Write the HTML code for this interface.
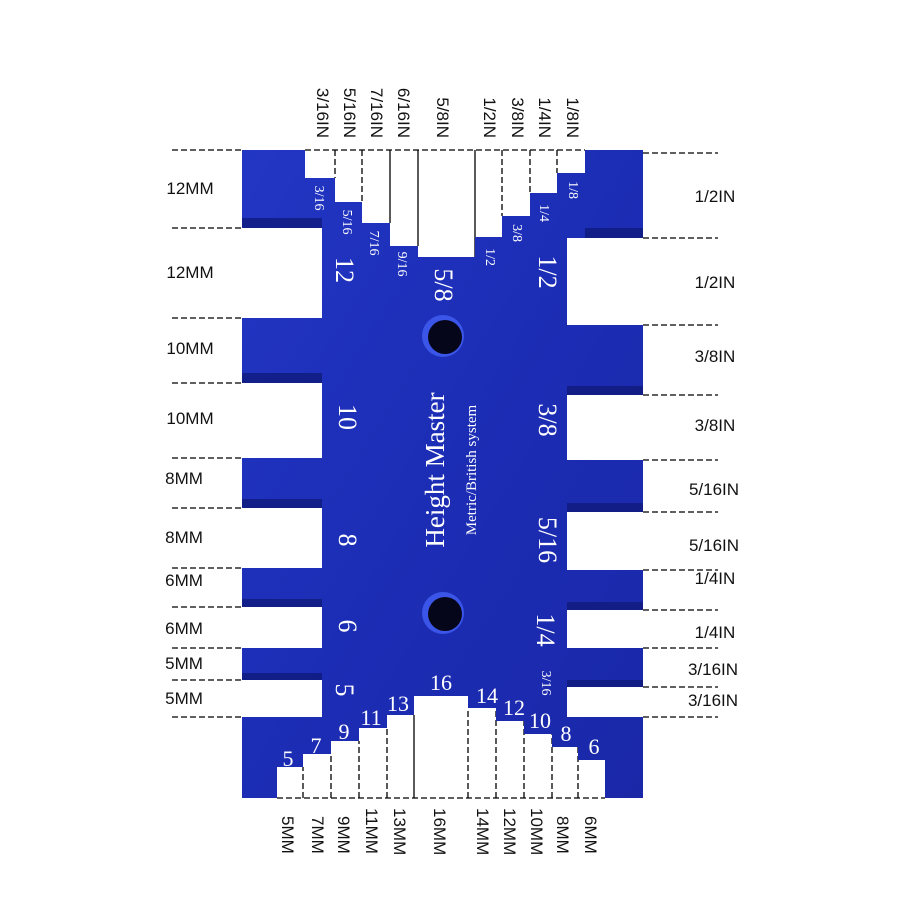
<!DOCTYPE html>
<html><head><style>html,body{margin:0;padding:0;background:#fff}svg{display:block}</style></head>
<body>
<svg width="900" height="900" viewBox="0 0 900 900" xmlns="http://www.w3.org/2000/svg">
<defs>
<linearGradient id="g" x1="0" y1="0" x2="1" y2="1">
<stop offset="0" stop-color="#2236c4"/><stop offset="0.5" stop-color="#1c2db5"/><stop offset="1" stop-color="#1a28a8"/>
</linearGradient>
</defs>
<rect width="900" height="900" fill="#fff"/>
<!-- dashed guide lines -->
<g stroke="#000" stroke-width="1.3" stroke-dasharray="6,3" fill="none">
<path d="M172 150H242M172 228H242M172 318H242M172 383H242M172 458H242M172 508H242M172 568H242M172 607H242M172 648H242M172 680H242M172 717H242"/>
<path d="M643 153H718M643 238H718M643 325H718M643 395H718M643 460H718M643 512H718M643 570H718M643 610H718M643 648H718M643 687H718M643 717H718"/>
<path d="M305 150H585"/>
<path d="M335 150V178M362 150V202M530 150V193M557 150V173M502 150V216"/>
<path d="M277 798H605"/>
<path d="M303 798V767M331 798V754M359 798V741M387 798V728M468 798V708M496 798V708M524 798V721M552 798V734M578 798V747"/>
</g>
<g stroke="#000" stroke-width="1.3"><path d="M390 150V223M418 150V246M475 150V257M414 798V715"/></g>
<!-- body -->
<path fill="url(#g)" d="M242 150H305V178H335V202H362V223H390V246H418V257H475V237H502V216H530V193H557V173H585V150H643V238H567V325H643V395H567V460H643V512H567V570H643V610H567V648H643V687H567V717H643V798H605V760H578V747H552V734H524V721H496V708H468V696H414V715H387V728H359V741H331V754H303V767H277V798H242V717H322V680H242V648H322V607H242V568H322V508H242V458H322V383H242V318H322V228H242Z"/>
<!-- slot shadows -->
<g fill="#0f1a78" opacity="0.75">
<rect x="242" y="218" width="80" height="10"/><rect x="242" y="373" width="80" height="10"/><rect x="242" y="499" width="80" height="9"/><rect x="242" y="599" width="80" height="8"/><rect x="242" y="673" width="80" height="7"/>
<rect x="585" y="228" width="58" height="10"/><rect x="567" y="386" width="76" height="9"/><rect x="567" y="503" width="76" height="9"/><rect x="567" y="602" width="76" height="8"/><rect x="567" y="680" width="76" height="7"/>
</g>
<!-- holes -->
<circle cx="443" cy="336" r="21" fill="#3a55e8"/><circle cx="445" cy="337" r="17" fill="#05061a"/>
<circle cx="443" cy="613" r="21" fill="#3a55e8"/><circle cx="445" cy="614" r="17" fill="#05061a"/>
<!-- engraved text -->
<g fill="#fff" font-family="Liberation Serif, serif" text-anchor="middle">
<text transform="translate(435,470) rotate(-90)" font-size="27" dy="9">Height Master</text>
<text transform="translate(471,470) rotate(-90)" font-size="15" dy="5">Metric/British system</text>
<g font-size="26">
<text transform="translate(345,270) rotate(90)" dy="9">12</text>
<text transform="translate(348,417) rotate(90)" dy="9">10</text>
<text transform="translate(348,540) rotate(90)" dy="9">8</text>
<text transform="translate(348,626) rotate(90)" dy="9">6</text>
<text transform="translate(345,690) rotate(90)" dy="9">5</text>
<text transform="translate(548,272) rotate(90)" dy="9">1/2</text>
<text transform="translate(548,420) rotate(90)" dy="9">3/8</text>
<text transform="translate(548,540) rotate(90)" dy="9">5/16</text>
<text transform="translate(546,630) rotate(90)" dy="9">1/4</text>
<text transform="translate(444,285) rotate(90)" dy="9">5/8</text>
</g>
<g font-size="14">
<text transform="translate(320,198) rotate(90)" dy="5">3/16</text>
<text transform="translate(348,222) rotate(90)" dy="5">5/16</text>
<text transform="translate(375,243) rotate(90)" dy="5">7/16</text>
<text transform="translate(403,264) rotate(90)" dy="5">9/16</text>
<text transform="translate(491,257) rotate(90)" dy="5">1/2</text>
<text transform="translate(518,233) rotate(90)" dy="5">3/8</text>
<text transform="translate(545,213) rotate(90)" dy="5">1/4</text>
<text transform="translate(574,190) rotate(90)" dy="5">1/8</text>
<text transform="translate(547,683) rotate(90)" dy="5">3/16</text>
</g>
<g font-size="22">
<text x="288" y="766">5</text><text x="316" y="753">7</text><text x="344" y="739">9</text>
<text x="371" y="725">11</text><text x="398" y="711">13</text><text x="441" y="690">16</text>
<text x="487" y="703">14</text><text x="514" y="715">12</text><text x="540" y="728">10</text>
<text x="566" y="741">8</text><text x="594" y="754">6</text>
</g>
</g>
<!-- outside labels -->
<g font-family="Liberation Sans, sans-serif" font-size="17" fill="#111">
<g text-anchor="middle">
<text x="190" y="194">12MM</text><text x="190" y="278">12MM</text><text x="190" y="354">10MM</text><text x="190" y="424">10MM</text>
<text x="184" y="484">8MM</text><text x="184" y="543">8MM</text><text x="184" y="586">6MM</text><text x="184" y="634">6MM</text>
<text x="184" y="669">5MM</text><text x="184" y="704">5MM</text>
<text x="715" y="202">1/2IN</text><text x="715" y="288">1/2IN</text><text x="715" y="362">3/8IN</text><text x="715" y="431">3/8IN</text>
<text x="714" y="495">5/16IN</text><text x="714" y="551">5/16IN</text><text x="715" y="584">1/4IN</text><text x="715" y="638">1/4IN</text>
<text x="713" y="675">3/16IN</text><text x="713" y="706">3/16IN</text>
</g>
<g text-anchor="end">
<text transform="translate(323,138) rotate(90)" dy="6">3/16IN</text>
<text transform="translate(350,138) rotate(90)" dy="6">5/16IN</text>
<text transform="translate(377,138) rotate(90)" dy="6">7/16IN</text>
<text transform="translate(404,138) rotate(90)" dy="6">6/16IN</text>
<text transform="translate(443,138) rotate(90)" dy="6">5/8IN</text>
<text transform="translate(490,138) rotate(90)" dy="6">1/2IN</text>
<text transform="translate(518,138) rotate(90)" dy="6">3/8IN</text>
<text transform="translate(545,138) rotate(90)" dy="6">1/4IN</text>
<text transform="translate(573,138) rotate(90)" dy="6">1/8IN</text>
</g>
<g text-anchor="start">
<text transform="translate(288,816) rotate(90)" dy="6">5MM</text>
<text transform="translate(318,816) rotate(90)" dy="6">7MM</text>
<text transform="translate(344,816) rotate(90)" dy="6">9MM</text>
<text transform="translate(372,808) rotate(90)" dy="6">11MM</text>
<text transform="translate(400,808) rotate(90)" dy="6">13MM</text>
<text transform="translate(440,808) rotate(90)" dy="6">16MM</text>
<text transform="translate(483,808) rotate(90)" dy="6">14MM</text>
<text transform="translate(510,808) rotate(90)" dy="6">12MM</text>
<text transform="translate(537,808) rotate(90)" dy="6">10MM</text>
<text transform="translate(563,816) rotate(90)" dy="6">8MM</text>
<text transform="translate(591,816) rotate(90)" dy="6">6MM</text>
</g>
</g>
</svg>
</body></html>
